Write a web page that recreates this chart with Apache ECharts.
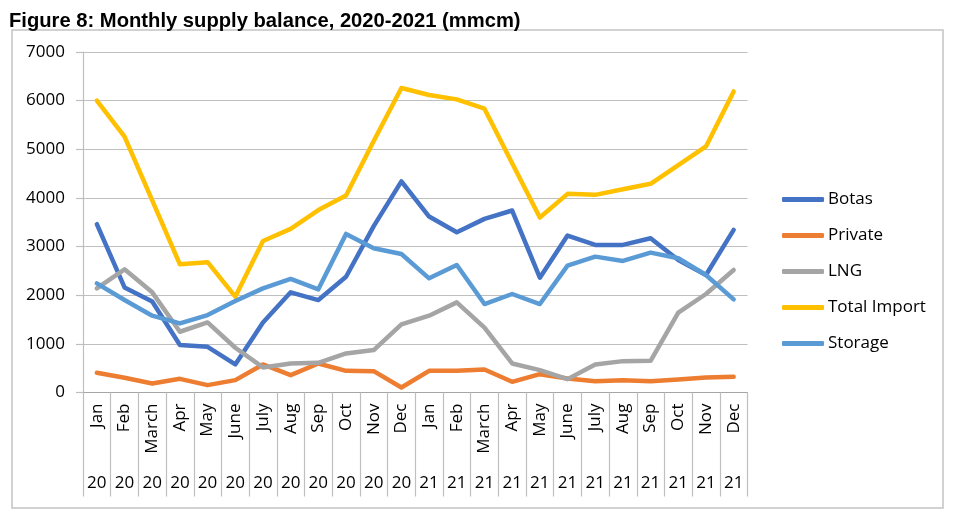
<!DOCTYPE html>
<html>
<head>
<meta charset="utf-8">
<script src="https://cdn.jsdelivr.net/npm/echarts@6/dist/echarts.min.js"></script>
<style>
html,body{margin:0;padding:0;background:#fff;}
#chart{width:956px;height:518px;}
</style>
</head>
<body>
<div id="chart"></div>
<script>
var months = ['Jan','Feb','March','Apr','May','June','July','Aug','Sep','Oct','Nov','Dec',
              'Jan','Feb','March','Apr','May','June','July','Aug','Sep','Oct','Nov','Dec'];
var years = ['20','20','20','20','20','20','20','20','20','20','20','20',
             '21','21','21','21','21','21','21','21','21','21','21','21'];
var botas = [3460,2160,1870,975,940,577,1440,2060,1900,2380,3420,4340,
             3617,3294,3569,3741,2361,3226,3034,3034,3171,2725,2416,3343];
var privateS = [405,302,185,281,151,254,577,357,597,446,439,103,
                446,446,474,220,377,288,233,254,233,268,309,323];
var lng = [2141,2533,2059,1249,1441,920,515,597,611,803,872,1400,
           1579,1853,1332,597,460,275,577,645,652,1640,2025,2519];
var totalImport = [6000,5260,3950,2635,2680,1970,3115,3365,3750,4050,5170,6260,
                   6115,6026,5834,4715,3596,4084,4063,4180,4290,4674,5058,6190];
var storage = [2244,1901,1579,1421,1592,1881,2141,2334,2121,3260,2965,2848,
               2347,2622,1819,2025,1819,2608,2793,2704,2876,2759,2416,1915];
var yTicks = [0,1000,2000,3000,4000,5000,6000,7000];

var FONT = 'Open Sans';
var chart = echarts.init(document.getElementById('chart'));
function mk(name, data, color) {
  return {
    name: name, type: 'line', data: data, symbol: 'none', smooth: false,
    lineStyle: {color: color, width: 4.5, join: 'round', cap: 'round'},
    itemStyle: {color: color}
  };
}
chart.setOption({
  animation: false,
  title: {
    text: 'Figure 8: Monthly supply balance, 2020-2021 (mmcm)',
    left: 4, top: 6,
    textStyle: {fontFamily: 'Liberation Sans', fontWeight: 'bold', fontSize: 20.2, color: '#000'}
  },
  graphic: [{
    type: 'rect', shape: {x: 12, y: 30, width: 931, height: 478},
    style: {fill: 'none', stroke: '#c4c4c4', lineWidth: 1.5}, z: -1
  }],
  grid: {left: 83, right: 208.5, top: 52, bottom: 125.5},
  legend: {
    orient: 'vertical', left: 777, top: 186, itemWidth: 42, itemHeight: 5, itemGap: 19,
    icon: 'roundRect',
    textStyle: {fontFamily: FONT, fontSize: 17, color: '#000', padding: [0,0,0,-1]},
    data: ['Botas','Private','LNG','Total Import','Storage']
  },
  xAxis: [{
    type: 'category', data: months, boundaryGap: true,
    axisLine: {lineStyle: {color: '#a6a6a6', width: 1.2}},
    axisTick: {show: true, interval: 0, length: 104, lineStyle: {color: '#bfbfbf', width: 1.2}},
    axisLabel: {interval: 0, rotate: 90, margin: 11, fontFamily: FONT, fontSize: 17, color: '#000'},
    splitLine: {show: false}
  }, {
    type: 'category', data: years, position: 'bottom', boundaryGap: true,
    axisLine: {show: false}, axisTick: {show: false},
    axisLabel: {interval: 0, margin: 82, fontFamily: FONT, fontSize: 17, color: '#000'},
    splitLine: {show: false}
  }],
  yAxis: {
    type: 'value', min: yTicks[0], max: yTicks[yTicks.length-1], interval: 1000,
    axisLine: {show: true, lineStyle: {color: '#bfbfbf', width: 1.2}},
    axisTick: {show: true, length: 7, lineStyle: {color: '#bfbfbf', width: 1.2}},
    axisLabel: {margin: 18, fontFamily: FONT, fontSize: 17, color: '#000',
                formatter: function (v) { return String(v); }},
    splitLine: {lineStyle: {color: '#bfbfbf', width: 1.2}}
  },
  series: [
    mk('Botas', botas, '#4472C4'),
    mk('Private', privateS, '#ED7D31'),
    mk('LNG', lng, '#A5A5A5'),
    mk('Total Import', totalImport, '#FFC000'),
    mk('Storage', storage, '#5B9BD5')
  ]
});
</script>
</body>
</html>
